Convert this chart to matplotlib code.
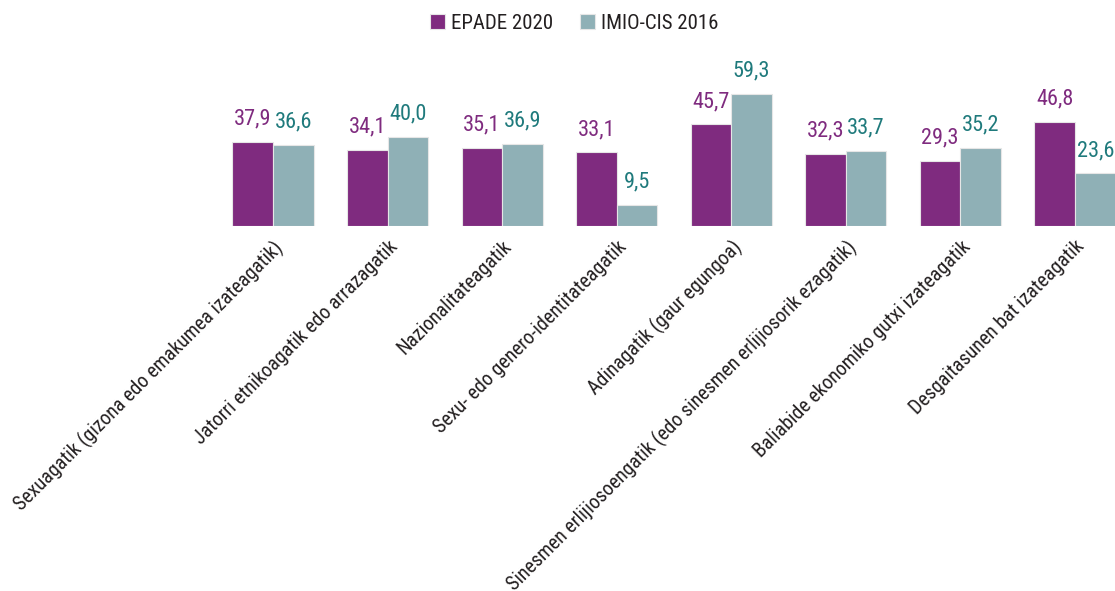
import numpy as np
import matplotlib.pyplot as plt

plt.rcParams['font.family'] = ['Roboto Condensed', 'DejaVu Sans']

categories = [
    "Sexuagatik (gizona edo emakumea izateagatik)",
    "Jatorri etnikoagatik edo arrazagatik",
    "Nazionalitateagatik",
    "Sexu- edo genero-identitateagatik",
    "Adinagatik (gaur egungoa)",
    "Sinesmen erlijiosoengatik (edo sinesmen erlijiosorik ezagatik)",
    "Baliabide ekonomiko gutxi izateagatik",
    "Desgaitasunen bat izateagatik",
]
epade_2020 = [37.9, 34.1, 35.1, 33.1, 45.7, 32.3, 29.3, 46.8]
imio_2016 = [36.6, 40.0, 36.9, 9.5, 59.3, 33.7, 35.2, 23.6]

purple = "#7f2b7f"
grey = "#8fb0b6"
purple_txt = "#7f2b7f"
teal_txt = "#1f7a7c"

fig = plt.figure(figsize=(11.15, 5.91), dpi=100)
# axes bottom at the bar baseline, top near the legend
ax = fig.add_axes([0, (591 - 226) / 591, 1, (226 - 40) / 591])

x = np.arange(len(categories))
w = 0.354
b1 = ax.bar(x - w / 2, epade_2020, w, color=purple, edgecolor="#e6e6e6", linewidth=0.8,
            label="EPADE 2020")
b2 = ax.bar(x + w / 2, imio_2016, w, color=grey, edgecolor="#e6e6e6", linewidth=0.8,
            label="IMIO-CIS 2016")

for xi, v in zip(x, epade_2020):
    ax.text(xi - w / 2, v + 5.5, f"{v:.1f}".replace(".", ","), ha="center", va="bottom",
            color=purple_txt, fontsize=16)
for xi, v in zip(x, imio_2016):
    ax.text(xi + w / 2, v + 5.5, f"{v:.1f}".replace(".", ","), ha="center", va="bottom",
            color=teal_txt, fontsize=16)

px = (1075 - 273) / 7
ax.set_xlim(-273 / px, 7 + (1115 - 1075) / px)
ax.set_ylim(0, (226 - 40) / 2.226)

ax.set_xticks(x)
ax.set_xticklabels(categories, rotation=45, ha="right", va="top", rotation_mode="anchor",
                   fontsize=14.3, color="#231f20")
ax.tick_params(axis="x", length=0, pad=8)
ax.set_yticks([])
for s in ax.spines.values():
    s.set_visible(False)

fig.legend(handles=[b1, b2], loc="upper center", bbox_to_anchor=(0.515, 1.008), ncol=2,
           frameon=False, fontsize=15, handlelength=0.7, handleheight=0.7,
           handletextpad=0.3, columnspacing=1.3, labelcolor="#231f20")

fig.savefig("out.png", dpi=100)
